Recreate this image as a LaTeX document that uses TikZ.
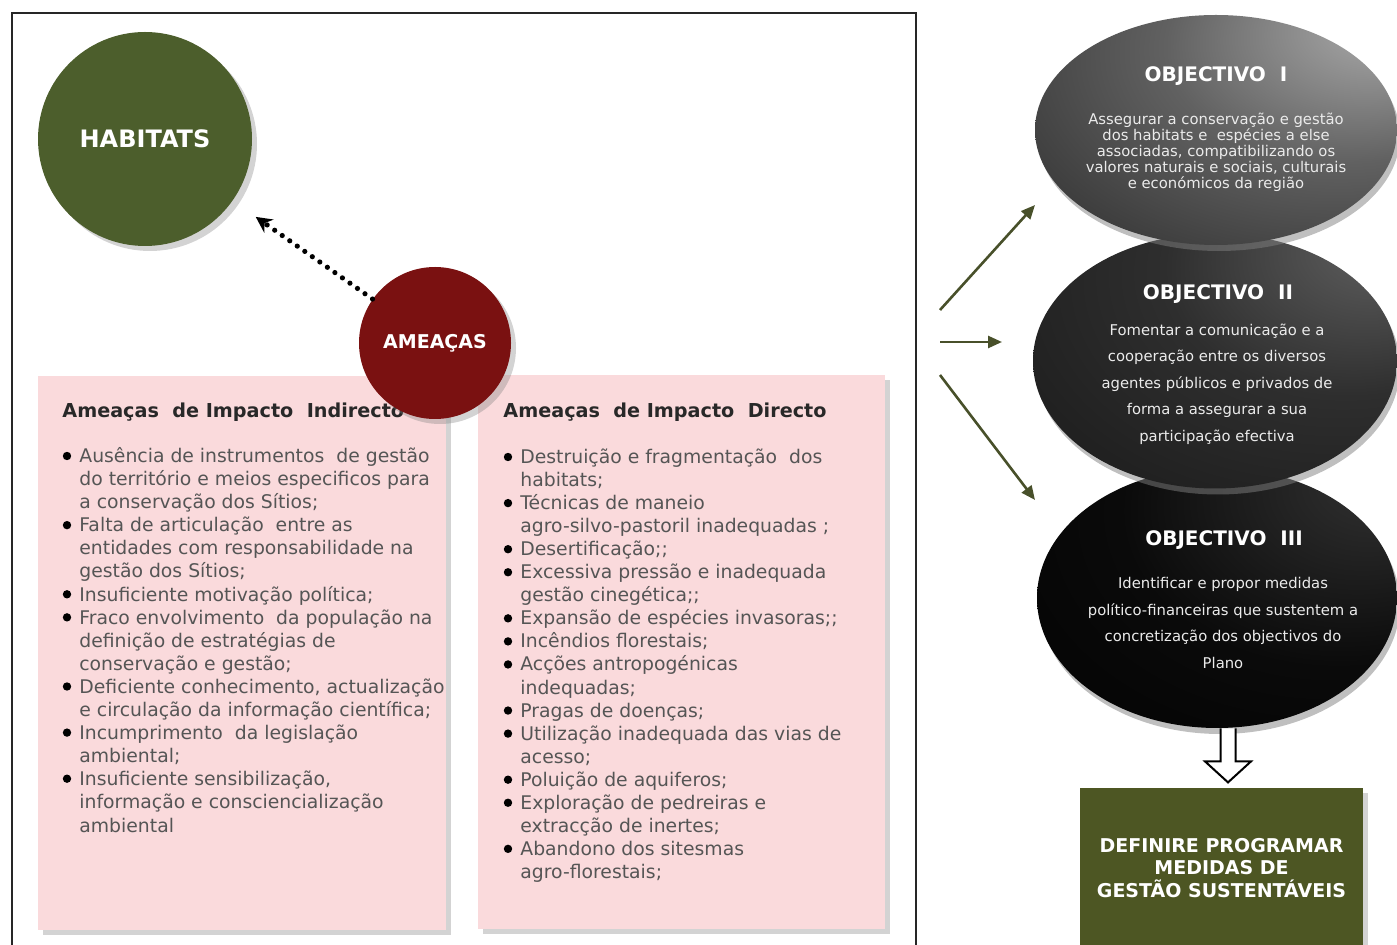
\documentclass[tikz,border=0pt]{standalone}
\usepackage{fontspec}
\setmainfont{DejaVu Sans}
\usetikzlibrary{shapes, calc, arrows.meta, shadows, positioning}

\definecolor{habgreen}{RGB}{76,94,44}
\definecolor{amred}{RGB}{122,17,17}
\definecolor{boxpink}{RGB}{250,218,220}
\definecolor{goalolive}{RGB}{77,86,35}
\definecolor{arrolive}{RGB}{72,80,42}
\definecolor{itemgray}{RGB}{85,85,85}
\definecolor{headgray}{RGB}{40,40,40}

\pgfdeclareradialshading{objone}{\pgfpoint{24bp}{24bp}}{color(0bp)=(black!32); color(25bp)=(black!62); color(50bp)=(black!80); color(100bp)=(black!88)}
\pgfdeclareradialshading{objtwo}{\pgfpoint{24bp}{24bp}}{color(0bp)=(black!62); color(25bp)=(black!82); color(50bp)=(black!89); color(100bp)=(black!91)}
\pgfdeclareradialshading{objthree}{\pgfpoint{24bp}{24bp}}{color(0bp)=(black!80); color(30bp)=(black!96); color(60bp)=(black); color(100bp)=(black)}

\begin{document}
\begin{tikzpicture}[x=0.5pt, y=-0.5pt,
    shadowed/.style={drop shadow={shadow xshift=2.5pt, shadow yshift=-2.5pt, opacity=0.35}},
    objshadow/.style={drop shadow={shadow xshift=1.5pt, shadow yshift=-3pt, opacity=0.5}},
    bigcirc/.style={circle, inner sep=0pt, text=white, shadowed},
    threatbox/.style={rectangle, fill=boxpink, inner sep=0pt, minimum width=#1, minimum height=277pt, shadowed},
    boxhead/.style={anchor=base west, inner sep=0pt, text=headgray, font=\bfseries\fontsize{9.6}{11}\selectfont},
    itemlist/.style={anchor=north west, inner sep=0pt, align=left, text=itemgray, font=\fontsize{9.4}{11.55}\selectfont},
    objshape/.style={ellipse, inner sep=0pt, shade, shading=#1, objshadow},
    objhead/.style={inner sep=0pt, text=white, font=\bfseries\fontsize{10}{11}\selectfont},
    objtext/.style={inner sep=0pt, align=center, text=black!8, font=\fontsize{7.4}{#1}\selectfont},
    olivearrow/.style={draw=arrolive, line width=1.3pt, -{Triangle[length=7pt, width=6pt]}},
    dotarrow/.style={line width=2.6pt, line cap=round, dash pattern=on 0pt off 4.6pt, -{Stealth[length=8pt, width=8pt]}, shorten >=14pt},
    hollowarrow/.style={draw=black, line width=1pt, fill=white, line join=miter}
]
\useasboundingbox (0,0) rectangle (1397,945);

% left frame
\draw[line width=1pt, black!85] (12,13) rectangle (916,975);

\node[bigcirc, fill=habgreen, minimum size=107pt, font=\bfseries\fontsize{12}{12}\selectfont] (habitats) at (145,139) {HABITATS};

\node[threatbox=204pt] (indirect) at (242,653) {};
\node[threatbox=203.5pt] (direct) at (681,652) {};

\node[boxhead] (indhead) at (62,418) {Ameaças\ \ de Impacto\ \ Indirecto};
\node[boxhead] (dirhead) at (503,418) {Ameaças\ \ de Impacto\ \ Directo};

\node[itemlist] (indlist) at (79,447) {%
Ausência de instrumentos\ \ de gestão\\
do território e meios especificos para\\
a conservação dos Sítios;\\
Falta de articulação\ \ entre as\\
entidades com responsabilidade na\\
gestão dos Sítios;\\
Insuficiente motivação política;\\
Fraco envolvimento\ \ da população na\\
definição de estratégias de\\
conservação e gestão;\\
Deficiente conhecimento, actualização\\
e circulação da informação científica;\\
Incumprimento\ \ da legislação\\
ambiental;\\
Insuficiente sensibilização,\\
informação e consciencialização\\
ambiental};

\node[itemlist] (dirlist) at (520,448) {%
Destruição e fragmentação\ \ dos\\
habitats;\\
Técnicas de maneio\\
agro-silvo-pastoril inadequadas ;\\
Desertificação;;\\
Excessiva pressão e inadequada\\
gestão cinegética;;\\
Expansão de espécies invasoras;;\\
Incêndios florestais;\\
Acções antropogénicas\\
indequadas;\\
Pragas de doenças;\\
Utilização inadequada das vias de\\
acesso;\\
Poluição de aquiferos;\\
Exploração de pedreiras e\\
extracção de inertes;\\
Abandono dos sitesmas\\
agro-florestais;};

% bullets
\foreach \i in {0,3,6,7,10,12,14}
  \fill (67,{456+23.05*\i}) circle (2.1pt);
\foreach \i in {0,2,4,5,7,8,9,11,12,14,15,17}
  \fill (508,{457+23.05*\i}) circle (2.1pt);

\node[bigcirc, fill=amred, minimum size=76pt, font=\bfseries\fontsize{9.5}{11}\selectfont] (ameacas) at (435,343) {AMEAÇAS};
\draw[dotarrow] (ameacas) -- (habitats);

% objectives, bottom one first
\node[objshape=objthree, minimum width=180pt, minimum height=130pt] (obj3) at (1217,598) {};
\node[objshape=objtwo, minimum width=182pt, minimum height=127.5pt] (obj2) at (1215,361) {};
\node[objshape=objone, minimum width=181pt, minimum height=115pt] (obj1) at (1216,130) {};

\node[objhead] (o1head) at ($(obj1)+(0,-54)$) {OBJECTIVO\ \ I};
\node[objtext=8] (o1text) at ($(obj1)+(0,22)$) {Assegurar a conservação e gestão\\
dos habitats e\ \ espécies a else\\
associadas, compatibilizando os\\
valores naturais e sociais, culturais\\
e económicos da região};

\node[objhead] (o2head) at ($(obj2)+(3,-67)$) {OBJECTIVO\ \ II};
\node[objtext=13.25] (o2text) at ($(obj2)+(2,23)$) {Fomentar a comunicação e a\\
cooperação entre os diversos\\
agentes públicos e privados de\\
forma a assegurar a sua\\
participação efectiva};

\node[objhead] (o3head) at ($(obj3)+(7,-58)$) {OBJECTIVO\ \ III};
\node[objtext=13.2] (o3text) at ($(obj3)+(6,25)$) {Identificar e propor medidas\\
político-financeiras que sustentem a\\
concretização dos objectivos do\\
Plano};

\coordinate (f1) at (940,310);
\coordinate (f2) at (940,342);
\coordinate (f3) at (940,375);
\coordinate (t1) at ($(obj1)+(-181,75)$);
\coordinate (t2) at ($(obj2)+(-213,-19)$);
\coordinate (t3) at ($(obj3)+(-182,-98)$);
\draw[olivearrow] (f1) -- (t1);
\draw[olivearrow] (f2) -- (t2);
\draw[olivearrow] (f3) -- (t3);

\node[rectangle, fill=goalolive, inner sep=0pt, minimum width=141.5pt, minimum height=80pt, shadowed] (goal) at (1221.5,868) {};
\node[inner sep=0pt, align=center, text=white, font=\bfseries\fontsize{9.5}{11.25}\selectfont] (goaltext) at (goal) {DEFINIRE PROGRAMAR\\
MEDIDAS DE\\
GESTÃO SUSTENTÁVEIS};

% open arrow down to the goal
\coordinate (arrtop) at ($(obj3.south)+(11,0)$);
\draw[hollowarrow] ($(arrtop)+(-7.5,0)$) -- ($(arrtop)+(-7.5,33)$) -- ($(arrtop)+(-23,33)$)
  -- ($(arrtop)+(0,54)$) -- ($(arrtop)+(23,33)$) -- ($(arrtop)+(7.5,33)$) -- ($(arrtop)+(7.5,0)$);

\end{tikzpicture}
\end{document}
